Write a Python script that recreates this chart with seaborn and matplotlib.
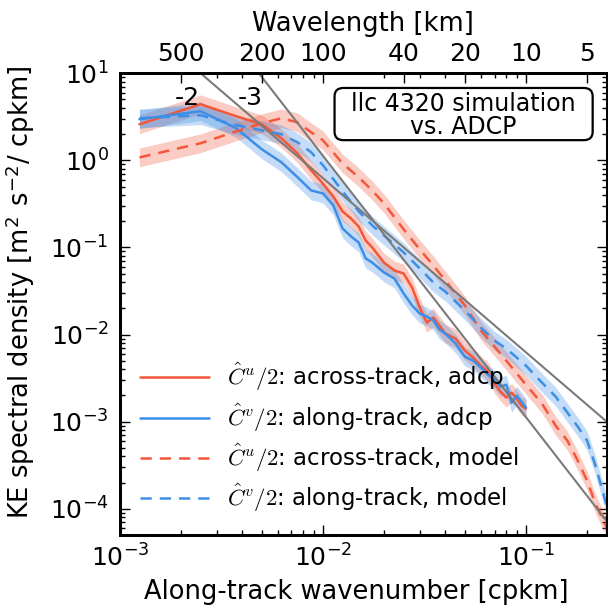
import pandas as pd
import matplotlib
matplotlib.use('Agg')
import matplotlib.pyplot as plt
from matplotlib.patches import FancyBboxPatch
import seaborn as sns

# wavenumbers [cpkm]
k_adcp = [0.00125, 0.0025, 0.00375, 0.005, 0.00625, 0.0075, 0.00875, 0.01,
          0.01125, 0.0125, 0.01375, 0.015, 0.01625, 0.0175, 0.02, 0.0225,
          0.025, 0.0275, 0.03, 0.0325, 0.035, 0.0375, 0.04, 0.045, 0.05,
          0.055, 0.06, 0.065, 0.07, 0.075, 0.08, 0.085, 0.09, 0.095, 0.1]
k_model = [0.00125, 0.0025, 0.00375, 0.005, 0.00625, 0.0075, 0.00875, 0.01,
           0.0125, 0.015, 0.0175, 0.02, 0.025, 0.03, 0.035, 0.04, 0.05, 0.06,
           0.07, 0.08, 0.1, 0.12, 0.14, 0.16, 0.18, 0.2, 0.22, 0.25]

# spectra [m2 s-2 / cpkm]
cu_adcp = [2.59, 4.40, 3.20, 2.59, 1.79, 1.20, 0.77, 0.54, 0.386, 0.259,
           0.215, 0.174, 0.120, 0.100, 0.067, 0.0544, 0.0502, 0.0347, 0.0204,
           0.0137, 0.0157, 0.0127, 0.0103, 0.0090, 0.00655, 0.00544, 0.0044,
           0.00376, 0.00273, 0.00221, 0.00189, 0.00215, 0.00184, 0.00153,
           0.00141]
cv_adcp = [2.96, 3.66, 2.33, 1.34, 0.95, 0.64, 0.452, 0.417, 0.304, 0.165,
           0.134, 0.114, 0.0748, 0.067, 0.0516, 0.044, 0.0296, 0.0216, 0.0174,
           0.0161, 0.0145, 0.0114, 0.0103, 0.0079, 0.00558, 0.00502, 0.00418,
           0.00347, 0.00304, 0.00252, 0.00266, 0.00165, 0.00199, 0.0017,
           0.00145]
cu_model = [1.08, 1.57, 2.15, 2.66, 3.04, 2.73, 2.10, 1.70, 0.92, 0.64, 0.45,
            0.32, 0.161, 0.095, 0.062, 0.042, 0.0216, 0.0111, 0.00728,
            0.00502, 0.00266, 0.00161, 9.0e-4, 6.05e-4, 3.56e-4, 2.10e-4,
            1.14e-4, 6.05e-5]
cv_model = [3.04, 3.29, 2.53, 2.21, 1.99, 1.61, 1.24, 0.88, 0.44, 0.26, 0.179,
            0.137, 0.0877, 0.0574, 0.0396, 0.0312, 0.0189, 0.0120, 0.00853,
            0.0069, 0.0044, 0.0028, 0.00194, 0.00127, 8.77e-4, 6.05e-4,
            3.12e-4, 1.08e-4]

# confidence band (multiplicative)
ci_lo, ci_hi = 0.78, 1.28

# reference slopes, end points
ref2_k, ref2_s = [0.002, 0.25], [15.6, 1.0e-3]
ref3_k, ref3_s = [0.004, 0.25], [17.7, 7.2e-5]

# top axis
wavelength = [500, 200, 100, 40, 20, 10, 5]

red = '#f4573a'
blue = '#3d8ee6'

sns.set_style('ticks')
plt.rcParams['font.family'] = ['DejaVu Sans']
plt.rcParams['mathtext.fontset'] = 'cm'
plt.rcParams['axes.unicode_minus'] = False
for key in ['text.color', 'axes.labelcolor', 'xtick.color', 'ytick.color',
            'axes.edgecolor']:
    plt.rcParams[key] = 'black'

fig = plt.figure(figsize=(6.08, 6.15), dpi=100)
ax = fig.add_axes([0.197, 0.130, 0.801, 0.751])

series = [
    (k_adcp, cu_adcp, red, '-', r'$\hat{C}^u/2$: across-track, adcp'),
    (k_adcp, cv_adcp, blue, '-', r'$\hat{C}^v/2$: along-track, adcp'),
    (k_model, cu_model, red, (0, (4.5, 3.2)), r'$\hat{C}^u/2$: across-track, model'),
    (k_model, cv_model, blue, (0, (4.5, 3.2)), r'$\hat{C}^v/2$: along-track, model'),
]

for k, s, c, ls, lab in series:
    df = pd.DataFrame({'k': k, 'S': s})
    ax.fill_between(df['k'], df['S'] * ci_lo, df['S'] * ci_hi,
                    color=c, alpha=0.3, lw=0)
    sns.lineplot(data=df, x='k', y='S', color=c, linestyle=ls, lw=1.8,
                 label=lab, ax=ax, estimator=None, sort=False)

sns.lineplot(x=ref2_k, y=ref2_s, color='#7a7a7a', lw=1.5, ax=ax)
sns.lineplot(x=ref3_k, y=ref3_s, color='#7a7a7a', lw=1.5, ax=ax)

ax.set_xscale('log')
ax.set_yscale('log')
ax.set_xlim(1e-3, 0.25)
ax.set_ylim(5e-5, 10)

ax.text(2.14e-3, 5.2, '-2', fontsize=18, ha='center', va='center')
ax.text(4.37e-3, 5.2, '-3', fontsize=18, ha='center', va='center')

# annotation box
ax.add_patch(FancyBboxPatch((0.441, 0.855), 0.53, 0.113,
                            boxstyle='round,pad=0,rounding_size=0.018',
                            transform=ax.transAxes, fc='white', ec='black',
                            lw=1.6, zorder=5))
ax.text(0.706, 0.909, 'llc 4320 simulation\nvs. ADCP', transform=ax.transAxes,
        fontsize=17, ha='center', va='center', multialignment='center',
        linespacing=0.95, zorder=6)

ax.set_xlabel('Along-track wavenumber [cpkm]', fontsize=18.5)
ax.set_ylabel(r'KE spectral density [m$^{\mathdefault{2}}$ s$^{\mathdefault{-2}}$/ cpkm]',
              fontsize=18.5)
ax.xaxis.set_label_coords(0.485, -0.095)
ax.yaxis.set_label_coords(-0.17, 0.525)
ax.tick_params(which='both', direction='in', top=False, right=True,
               labelsize=18)
ax.tick_params(which='major', length=7, width=1)
ax.tick_params(which='minor', length=3.5, width=1)
ax.tick_params(axis='x', pad=7)
ax.tick_params(axis='y', pad=8)
for sp in ax.spines.values():
    sp.set_linewidth(2)

ax.legend(loc='lower left', frameon=False, fontsize=16.5, handlelength=3.0,
          labelspacing=0.35, borderaxespad=0.5)

ax2 = ax.twiny()
ax2.set_xscale('log')
ax2.set_xlim(ax.get_xlim())
ax2.set_xticks([1.0 / w for w in wavelength])
ax2.set_xticklabels([str(w) for w in wavelength])
ax2.tick_params(which='both', direction='in', labelsize=18, pad=5)
ax2.tick_params(which='major', length=7, width=1)
ax2.tick_params(which='minor', length=3.5, width=1)
ax2.set_xlabel('Wavelength [km]', fontsize=18.5)
ax2.xaxis.set_label_coords(0.5, 1.091)
for sp in ax2.spines.values():
    sp.set_linewidth(2)

fig.savefig('out.png', dpi=100)
